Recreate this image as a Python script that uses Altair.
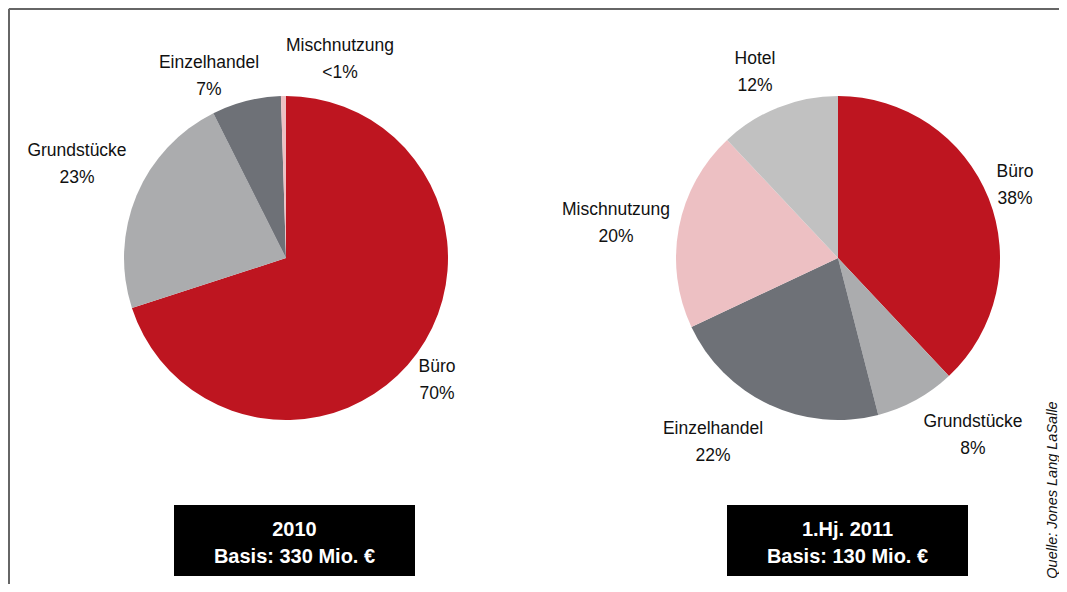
import altair as alt
import pandas as pd

# ---- data ----
cats_2010 = ["Büro", "Grundstücke", "Einzelhandel", "Mischnutzung"]
vals_2010 = [70.0, 22.6, 6.9, 0.5]
pct_2010 = ["70%", "23%", "7%", "<1%"]

cats_2011 = ["Büro", "Grundstücke", "Einzelhandel", "Mischnutzung", "Hotel"]
vals_2011 = [38, 8, 22, 20, 12]
pct_2011 = ["38%", "8%", "22%", "20%", "12%"]

box_titles = ["2010", "1.Hj. 2011"]
box_bases = ["Basis: 330 Mio. €", "Basis: 130 Mio. €"]
source = "Quelle: Jones Lang LaSalle"

# ---- layout / style ----
W, H = 1051, 576
R = 162
centers = [(278, 250), (830, 250)]
# first-line centre of each two-line label
label_xy_2010 = [(429, 359), (69, 143), (201, 55), (332, 38)]
label_xy_2011 = [(1007, 164), (965, 414), (705, 421), (608, 202), (747, 51)]
boxes = [(166, 407), (719, 960)]
box_y = (497, 568)

cat_domain = ["Büro", "Grundstücke", "Einzelhandel", "Mischnutzung", "Hotel"]
cat_range = ["#BE1520", "#ABACAE", "#6E7177", "#EDC0C3", "#C1C1C1"]
color = alt.Color("cat:N", scale=alt.Scale(domain=cat_domain, range=cat_range), legend=None)
FONT = "Liberation Sans"


def pie(cats, vals, center):
    df = pd.DataFrame({"cat": cats, "val": vals, "idx": list(range(len(cats)))})
    return alt.Chart(df).mark_arc(radius=R, stroke=None).encode(
        theta=alt.Theta("val:Q", stack=True),
        order=alt.Order("idx:Q"),
        color=color,
        x=alt.value(center[0]),
        y=alt.value(center[1]),
    )


def labels(cats, pcts, xy):
    df = pd.DataFrame({
        "txt": [f"{c}\n{p}" for c, p in zip(cats, pcts)],
        "lx": [p[0] for p in xy],
        "ly": [p[1] for p in xy],
    })
    return alt.Chart(df).mark_text(
        font=FONT, fontSize=17.5, color="#111111", lineBreak="\n", lineHeight=26.5,
        align="center", baseline="middle",
    ).encode(
        x=alt.X("lx:Q", scale=None, axis=None),
        y=alt.Y("ly:Q", scale=None, axis=None),
        text="txt:N",
    )


box_df = pd.DataFrame({
    "x1": [b[0] for b in boxes], "x2": [b[1] for b in boxes],
    "y1": [box_y[0]] * 2, "y2": [box_y[1]] * 2,
    "cx": [(b[0] + b[1]) / 2 for b in boxes],
    "txt": [f"{t}\n{b}" for t, b in zip(box_titles, box_bases)],
})
box_rects = alt.Chart(box_df).mark_rect(color="black").encode(
    x=alt.X("x1:Q", scale=None), x2="x2:Q",
    y=alt.Y("y1:Q", scale=None), y2="y2:Q",
)
box_text = alt.Chart(box_df).mark_text(
    font=FONT, fontSize=20, fontWeight="bold", color="white",
    lineBreak="\n", lineHeight=27, align="center", baseline="middle",
).encode(
    x=alt.X("cx:Q", scale=None),
    y=alt.value(521.5),
    text="txt:N",
)

frame_top = alt.Chart(pd.DataFrame({"a": [0]})).mark_rule(color="#666666", strokeWidth=2).encode(
    x=alt.value(1), x2=alt.value(W), y=alt.value(1)
)
frame_left = alt.Chart(pd.DataFrame({"a": [0]})).mark_rule(color="#666666", strokeWidth=2).encode(
    x=alt.value(1), y=alt.value(1), y2=alt.value(H)
)
src = alt.Chart(pd.DataFrame({"t": [source]})).mark_text(
    font=FONT, fontSize=14.5, fontStyle="italic", color="#111111", angle=270,
    align="center", baseline="middle",
).encode(x=alt.value(1045), y=alt.value(482), text="t:N")

chart = alt.layer(
    frame_top, frame_left,
    pie(cats_2010, vals_2010, centers[0]),
    pie(cats_2011, vals_2011, centers[1]),
    labels(cats_2010, pct_2010, label_xy_2010),
    labels(cats_2011, pct_2011, label_xy_2011),
    box_rects, box_text, src,
).properties(
    width=W, height=H, padding=0,
    autosize=alt.AutoSizeParams(type="none"),
).configure_view(stroke=None).configure(background="white")

chart.save("out.html", embed_options={"renderer": "svg", "actions": False})
